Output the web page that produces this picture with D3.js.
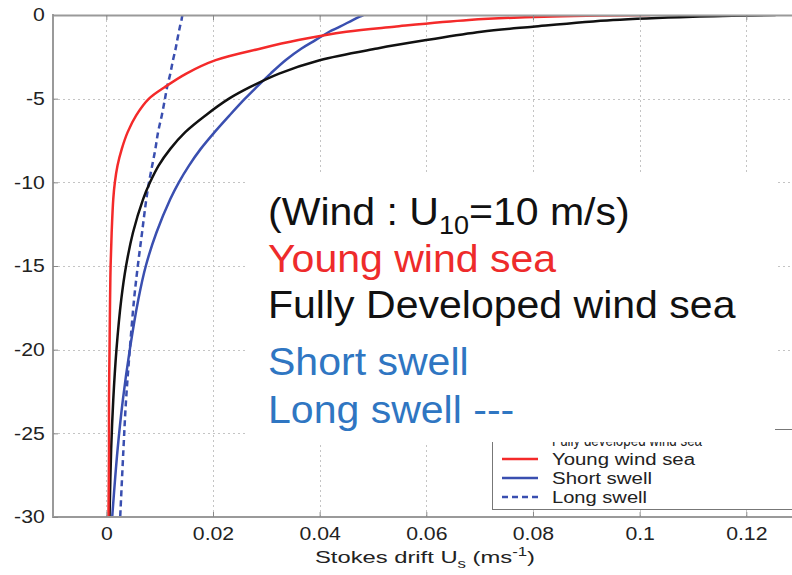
<!DOCTYPE html>
<html><head><meta charset="utf-8">
<script src="https://cdn.jsdelivr.net/npm/d3@7"></script>
<style>body{margin:0;background:#fff}svg{display:block}</style>
</head><body><svg id="c" width="792" height="575"></svg>
<script>
// ---- data ----
const depths         = [0, -0.1, -0.3, -0.7, -1, -1.5, -2, -2.7, -3.5, -4.3, -5, -6, -7, -8, -9, -10, -11, -13, -15, -17, -20, -23, -26, -30];
const youngWindSea   = [0.102, 0.082, 0.068, 0.054, 0.045, 0.036, 0.029, 0.0205, 0.0150, 0.0110, 0.0080, 0.0056, 0.0040, 0.0029, 0.0021, 0.0016, 0.0013, 0.0010, 0.0008, 0.0007, 0.0006, 0.0005, 0.0005, 0.0004];
const fullyDeveloped = [0.1255, 0.110, 0.095, 0.080, 0.0703, 0.060, 0.0508, 0.040, 0.0324, 0.027, 0.0230, 0.0186, 0.0148, 0.0120, 0.0098, 0.0082, 0.0069, 0.0050, 0.0037, 0.0028, 0.0019, 0.0013, 0.0009, 0.0006];
const shortSwell     = [0.0482, 0.0475, 0.0462, 0.0438, 0.0418, 0.0392, 0.0366, 0.0336, 0.0308, 0.0282, 0.0260, 0.0231, 0.0203, 0.0177, 0.0155, 0.0136, 0.0120, 0.0094, 0.0074, 0.0060, 0.0044, 0.0031, 0.0021, 0.0011];
const longSwell      = [0.0143, 0.0142, 0.0141, 0.0138, 0.0136, 0.0133, 0.0130, 0.0125, 0.0120, 0.0114, 0.0110, 0.0104, 0.0097, 0.0092, 0.0086, 0.0080, 0.0075, 0.0067, 0.0059, 0.0052, 0.0044, 0.0037, 0.0032, 0.0026];

const xTicks      = [0, 0.02, 0.04, 0.06, 0.08, 0.1, 0.12];
const xTickLabels = ["0", "0.02", "0.04", "0.06", "0.08", "0.1", "0.12"];
const yTicks      = [0, -5, -10, -15, -20, -25, -30];
const yTickLabels = ["0", "-5", "-10", "-15", "-20", "-25", "-30"];

const legendLabels = ["Fully developed wind sea", "Young wind sea", "Short swell", "Long swell"];
const annotationTitle = ["(Wind : U", "10", "=10 m/s)"];
const annotationLines = ["Young wind sea", "Fully Developed wind sea", "Short swell", "Long swell ---"];

// ---- styles ----
const FONT = "'Liberation Sans', Arial, Helvetica, sans-serif";
const seriesDefs = [
  {name: legendLabels[0], values: fullyDeveloped, color: "#111111", dash: null},
  {name: legendLabels[1], values: youngWindSea,   color: "#f42a2a", dash: null},
  {name: legendLabels[2], values: shortSwell,     color: "#3a4fb0", dash: null},
  {name: legendLabels[3], values: longSwell,      color: "#3a4fb0", dash: "6,4"}
];

const svg = d3.select("#c");
const L = 53, T = 15, B = 517;
const x = d3.scaleLinear().domain([-0.01, 0.13]).range([L, L + 0.14 * 5333]);
const y = d3.scaleLinear().domain([-30, 0]).range([B, T]);
const R = x(0.13);

svg.append("defs").append("clipPath").attr("id", "plot")
  .append("rect").attr("x", L).attr("y", T).attr("width", R - L).attr("height", B - T);

// grid
const grid = svg.append("g").attr("stroke", "#c4c4c4").attr("stroke-width", 1).attr("stroke-dasharray", "2,3");
grid.selectAll(".gx").data(xTicks).join("line")
  .attr("x1", d => Math.round(x(d)) + 0.5).attr("x2", d => Math.round(x(d)) + 0.5)
  .attr("y1", T).attr("y2", B);
grid.selectAll(".gy").data(yTicks.slice(1, -1)).join("line")
  .attr("x1", L).attr("x2", R)
  .attr("y1", d => Math.round(y(d)) + 0.5).attr("y2", d => Math.round(y(d)) + 0.5);

// curves
const line = d3.line().x(d => x(d[1])).y(d => y(d[0])).curve(d3.curveCatmullRom.alpha(0.5));
const curves = svg.append("g").attr("clip-path", "url(#plot)");
[seriesDefs[2], seriesDefs[3], seriesDefs[0], seriesDefs[1]].forEach(s => {
  curves.append("path")
    .datum(depths.map((dp, i) => [dp, s.values[i]]))
    .attr("d", line).attr("fill", "none")
    .attr("stroke", s.color).attr("stroke-width", 2.5)
    .attr("stroke-linejoin", "round")
    .attr("stroke-dasharray", s.dash);
});

// legend (partly covered by the annotation box)
const lg = svg.append("g");
lg.append("rect").attr("x", 492.5).attr("y", 429.5).attr("width", 320).attr("height", 80)
  .attr("fill", "#fff").attr("stroke", "#777").attr("stroke-width", 1);
const rowY = [440, 459, 478, 497];
const lgWidths = [150, 143, 100, 95];
seriesDefs.forEach((s, i) => {
  lg.append("line").attr("x1", 502).attr("x2", 538).attr("y1", rowY[i]).attr("y2", rowY[i])
    .attr("stroke", s.color).attr("stroke-width", 2.4).attr("stroke-dasharray", s.dash);
  lg.append("text").attr("x", 552).attr("y", rowY[i] + 6)
    .attr("font-family", FONT).attr("font-size", 16).attr("fill", "#222")
    .attr("textLength", lgWidths[i]).attr("lengthAdjust", "spacingAndGlyphs")
    .text(s.name);
});

// annotation box (white background)
svg.append("rect").attr("x", 247).attr("y", 175).attr("width", 528).attr("height", 267).attr("fill", "#fff");
const ann = svg.append("g").attr("transform", "translate(268,0) scale(1.08,1)")
  .attr("font-family", FONT).attr("font-size", 38);
const t0 = ann.append("text").attr("x", 0).attr("y", 225).attr("fill", "#111");
t0.append("tspan").text(annotationTitle[0]);
t0.append("tspan").attr("font-size", 25).attr("dy", 9).text(annotationTitle[1]);
t0.append("tspan").attr("dy", -9).text(annotationTitle[2]);
const annColors = ["#ee2b2b", "#111", "#2f76c2", "#2f76c2"];
const annY = [272, 318, 375, 423];
annotationLines.forEach((t, i) => {
  ann.append("text").attr("x", 0).attr("y", annY[i]).attr("fill", annColors[i]).text(t);
});

// axes
const axColor = "#9a9a9a";
const xAxis = d3.axisBottom(x).tickValues(xTicks).tickFormat((d, i) => xTickLabels[i])
  .tickSizeInner(-5).tickSizeOuter(0).tickPadding(10);
const gx = svg.append("g").attr("transform", `translate(0,${B})`).call(xAxis);
const yAxis = d3.axisLeft(y).tickValues(yTicks).tickFormat((d, i) => yTickLabels[i])
  .tickSizeInner(-5).tickSizeOuter(0).tickPadding(7);
const gy = svg.append("g").attr("transform", `translate(${L},0)`).call(yAxis);
const xTop = d3.axisTop(x).tickValues(xTicks).tickFormat("").tickSizeInner(-5).tickSizeOuter(0);
const gt = svg.append("g").attr("transform", `translate(0,${T})`).call(xTop);
[gx, gy, gt].forEach(g => {
  g.select(".domain").attr("stroke", axColor).attr("stroke-width", 2);
  g.selectAll(".tick line").attr("stroke", "#888").attr("stroke-width", 1);
  g.selectAll("text").attr("font-family", FONT).attr("font-size", 18).attr("fill", "#222")
    .attr("transform", "scale(1.18,1)");
});
gx.select(".domain").attr("d", `M${L},0H${R}`);
gy.select(".domain").attr("d", `M0,${T - 1}V${B + 1}`);

// x label
const xl = svg.append("text").attr("x", 425).attr("y", 563).attr("text-anchor", "middle")
  .attr("font-family", FONT).attr("font-size", 17).attr("fill", "#222")
  .attr("textLength", 220).attr("lengthAdjust", "spacingAndGlyphs");
xl.append("tspan").text("Stokes drift U");
xl.append("tspan").attr("font-size", 12).attr("dy", 5).text("s");
xl.append("tspan").attr("dy", -5).text(" (ms");
xl.append("tspan").attr("font-size", 12).attr("dy", -7).text("-1");
xl.append("tspan").attr("dy", 7).text(")");
</script></body></html>
